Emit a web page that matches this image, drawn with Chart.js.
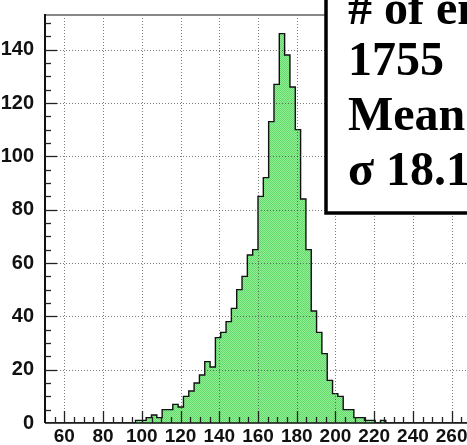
<!DOCTYPE html>
<html>
<head>
<meta charset="utf-8">
<script src="https://cdn.jsdelivr.net/npm/chart.js@4.4.0/dist/chart.umd.min.js"></script>
<style>
  html, body { margin: 0; padding: 0; background: #fff; overflow: hidden; }
  #wrap { width: 467px; height: 445px; overflow: hidden; }
  canvas { display: block; }
</style>
</head>
<body>
<div id="wrap"><canvas id="hist" width="490" height="445"></canvas></div>
<script>
// histogram: 80 bins from 50 to 270
const histMin = 50;
const histMax = 270;
const binCounts = [
  0, 0, 0, 0, 0, 0, 0, 0, 0, 0,
  0, 0, 0, 0, 0, 0, 0, 1, 1, 2,
  3, 2, 5, 5, 7, 6, 10, 12, 15, 18,
  23, 21, 32, 34, 38, 43, 50, 55, 63, 65,
  85, 92, 113, 127, 146, 138, 126, 110, 84, 65,
  42, 34, 26, 16, 11, 10, 5, 5, 2, 2,
  1, 1, 0, 1, 0, 0, 0, 0, 0, 0,
  0, 0, 0, 0, 0, 0, 0, 0, 0, 0,
];
const yMax = 153;
const xTickValues = [60, 80, 100, 120, 140, 160, 180, 200, 220, 240, 260];
const yTickValues = [0, 20, 40, 60, 80, 100, 120, 140];
const statsLines = ["# of entries", "1755", "Mean", "σ 18.1"];

const binWidth = (histMax - histMin) / binCounts.length;
const stepPoints = binCounts.map((count, i) => ({ x: histMin + i * binWidth, y: count }));
stepPoints.push({ x: histMax, y: 0 });

const canvas = document.getElementById("hist");
const ctx = canvas.getContext("2d");

// small checker tile, like the ROOT fill
const tile = document.createElement("canvas");
tile.width = 2;
tile.height = 2;
const tctx = tile.getContext("2d");
tctx.fillStyle = "#93ee96";
tctx.fillRect(0, 0, 2, 2);
tctx.fillStyle = "#62da6b";
tctx.fillRect(0, 0, 1, 1);
tctx.fillRect(1, 1, 1, 1);
const greenPattern = ctx.createPattern(tile, "repeat");

function strokeLine(c, x1, y1, x2, y2) {
  c.beginPath();
  c.moveTo(x1, y1);
  c.lineTo(x2, y2);
  c.stroke();
}

const rootFrame = {
  id: "rootFrame",
  afterDatasetsDraw(chart) {
    const c = chart.ctx;
    const a = chart.chartArea;
    const xs = chart.scales.x;
    const ys = chart.scales.y;
    c.save();

    // dotted grid, drawn over the histogram
    c.strokeStyle = "rgba(70, 70, 70, 0.7)";
    c.lineWidth = 1;
    c.setLineDash([1, 2]);
    xTickValues.forEach((v) => {
      const px = Math.round(xs.getPixelForValue(v)) + 0.5;
      strokeLine(c, px, a.top, px, a.bottom);
    });
    yTickValues.forEach((v) => {
      if (v === 0) return;
      const py = Math.round(ys.getPixelForValue(v)) + 0.5;
      strokeLine(c, a.left, py, a.right, py);
    });
    c.setLineDash([]);

    // frame
    c.strokeStyle = "#888";
    c.lineWidth = 2;
    strokeLine(c, a.left, a.top, a.right, a.top);
    c.strokeStyle = "#111";
    strokeLine(c, a.left, a.top - 1, a.left, a.bottom);
    c.lineWidth = 1.5;
    strokeLine(c, a.left, a.bottom, a.right, a.bottom);

    // tick marks pointing into the frame
    c.lineWidth = 1.3;
    c.strokeStyle = "#222";
    for (let v = 55; v <= histMax; v += 5) {
      const px = Math.round(xs.getPixelForValue(v)) + 0.5;
      const len = v % 20 === 0 ? 12 : 6;
      strokeLine(c, px, a.bottom, px, a.bottom - len);
    }
    for (let v = 5; v <= yMax; v += 5) {
      const py = Math.round(ys.getPixelForValue(v)) + 0.5;
      const len = v % 20 === 0 ? 12 : 6;
      strokeLine(c, a.left, py, a.left + len, py);
    }
    c.restore();
  },
  afterDraw(chart) {
    const c = chart.ctx;
    c.save();
    c.fillStyle = "#fff";
    c.fillRect(326, -10, 300, 223);
    c.strokeStyle = "#000";
    c.lineWidth = 3.5;
    c.strokeRect(326, -10, 300, 223);
    c.fillStyle = "#000";
    c.font = 'bold 48px "Liberation Serif"';
    c.textAlign = "left";
    c.textBaseline = "alphabetic";
    const baselines = [24, 75, 130, 185];
    statsLines.forEach((t, i) => c.fillText(t, 348, baselines[i]));
    c.restore();
  },
};

const xTickFont = { family: '"Liberation Sans", Arial, sans-serif', size: 19, weight: "bold" };
const yTickFont = { family: '"Liberation Sans", Arial, sans-serif', size: 20, weight: "bold" };

new Chart(canvas, {
  type: "line",
  data: {
    datasets: [
      {
        data: stepPoints,
        stepped: true,
        fill: "origin",
        backgroundColor: greenPattern,
        borderColor: "#111",
        borderWidth: 1.4,
        pointRadius: 0,
      },
    ],
  },
  options: {
    responsive: false,
    animation: false,
    devicePixelRatio: 1,
    layout: { padding: { top: 9, right: 19, left: 0, bottom: 0 } },
    plugins: {
      legend: { display: false },
      tooltip: { enabled: false },
    },
    scales: {
      x: {
        type: "linear",
        min: histMin,
        max: histMax,
        grid: { display: false },
        border: { display: false },
        afterBuildTicks: (scale) => {
          scale.ticks = xTickValues.map((v) => ({ value: v }));
        },
        afterFit: (scale) => {
          scale.height = 22;
        },
        ticks: { font: xTickFont, color: "#111", padding: -6, maxRotation: 0, autoSkip: false },
      },
      y: {
        min: 0,
        max: yMax,
        grid: { display: false },
        border: { display: false },
        afterBuildTicks: (scale) => {
          scale.ticks = yTickValues.map((v) => ({ value: v }));
        },
        afterFit: (scale) => {
          scale.width = 45;
        },
        ticks: { font: yTickFont, color: "#111", padding: 3 },
      },
    },
  },
  plugins: [rootFrame],
});
</script>
</body>
</html>
